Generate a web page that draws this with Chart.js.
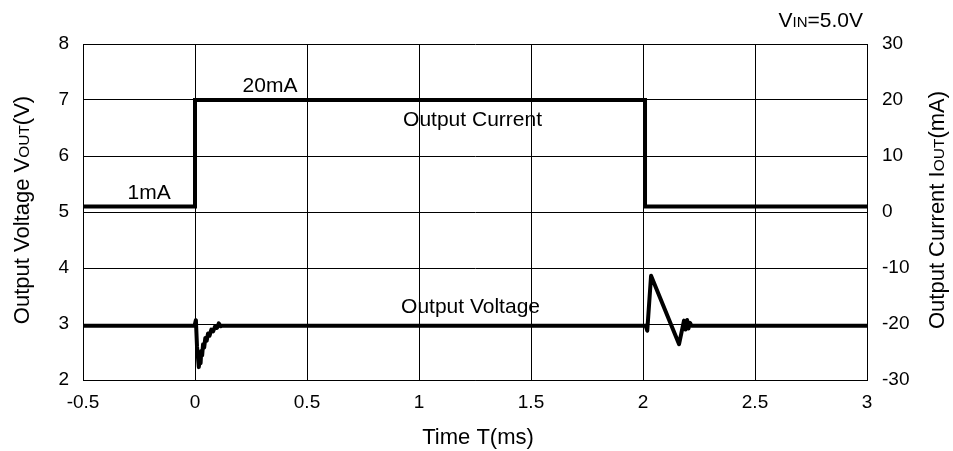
<!DOCTYPE html>
<html><head><meta charset="utf-8">
<script src="https://cdn.jsdelivr.net/npm/chart.js@4"></script>
<style>html,body{margin:0;padding:0;background:#fff}</style>
</head><body>
<canvas id="c" width="953" height="451" style="display:block;width:953px;height:451px"></canvas>
<script>
// ---- data ----
const xTicks = [-0.5, 0, 0.5, 1, 1.5, 2, 2.5, 3];
const vTicks = [2, 3, 4, 5, 6, 7, 8];
const iTicks = [-30, -20, -10, 0, 10, 20, 30];

const currentTime = [-0.5, 0, 0, 2.009, 2.009, 3];
const currentMA   = [1, 1, 20, 20, 1, 1];

const voltageTime = [-0.5, -0.002, 0.004, 0.009, 0.017, 0.021, 0.025, 0.028, 0.032, 0.036, 0.041, 0.046, 0.052, 0.058, 0.065, 0.073, 0.081, 0.09, 0.098, 0.106, 0.114, 0.122,
                     2.012, 2.019, 2.036, 2.161, 2.183, 2.19, 2.197, 2.203, 2.21, 2.216, 3];
const voltageV    = [2.97, 2.97, 3.07, 2.6, 2.23, 2.38, 2.3, 2.52, 2.44, 2.64, 2.58, 2.75, 2.7, 2.83, 2.79, 2.9, 2.87, 2.96, 2.93, 3.01, 2.96, 2.97,
                     2.97, 2.88, 3.86, 2.64, 3.06, 2.9, 3.07, 2.92, 3.02, 2.97, 2.97];

const annotText = ['20mA', '1mA', 'Output Current', 'Output Voltage'];

// ---- rendering ----
const FONT = "'Liberation Sans', Arial, sans-serif";
Chart.defaults.font.family = FONT;
Chart.defaults.color = '#000';

const annotPos = [[0.335, 7.14], [-0.205, 5.23], [1.239, 6.54], [1.23, 3.2]];

function drawRich(ctx, parts, x, y, align) {
  let total = 0;
  const widths = parts.map(p => { ctx.font = p[1] + 'px ' + FONT; const w = ctx.measureText(p[0]).width; total += w; return w; });
  let cx = align === 'center' ? x - total / 2 : (align === 'right' ? x - total : x);
  ctx.textAlign = 'left';
  ctx.textBaseline = 'alphabetic';
  parts.forEach((p, i) => { ctx.font = p[1] + 'px ' + FONT; ctx.fillText(p[0], cx, y); cx += widths[i]; });
}

const textPlugin = {
  id: 'texts',
  afterDraw(chart) {
    const { ctx, chartArea: a, scales } = chart;
    ctx.save();
    ctx.fillStyle = '#000';
    annotText.forEach((t, i) => {
      const px = scales.x.getPixelForValue(annotPos[i][0]);
      const py = scales.yV.getPixelForValue(annotPos[i][1]);
      drawRich(ctx, [[t, 21]], px, py, 'center');
    });
    drawRich(ctx, [['V', 21], ['IN', 15], ['=5.0V', 21]], a.right - 4, 27, 'right');
    drawRich(ctx, [['Time T(ms)', 22]], (a.left + a.right) / 2 + 3, 444, 'center');
    const cy = (a.top + a.bottom) / 2;
    ctx.save();
    ctx.translate(29, cy - 2);
    ctx.rotate(-Math.PI / 2);
    drawRich(ctx, [['Output Voltage V', 22], ['OUT', 15.5], ['(V)', 22]], 0, 0, 'center');
    ctx.restore();
    ctx.save();
    ctx.translate(944, cy - 2);
    ctx.rotate(-Math.PI / 2);
    drawRich(ctx, [['Output Current I', 22], ['OUT', 15.5], ['(mA)', 22]], 0, 0, 'center');
    ctx.restore();
    ctx.restore();
  }
};

const tickFont = { size: 19 };

new Chart(document.getElementById('c'), {
  type: 'line',
  data: {
    datasets: [
      {
        label: 'Output Current',
        data: currentTime.map((x, i) => ({ x, y: currentMA[i] })),
        yAxisID: 'yI',
        borderColor: '#000', borderWidth: 4, pointRadius: 0, tension: 0, fill: false,
        borderJoinStyle: 'miter', borderCapStyle: 'butt'
      },
      {
        label: 'Output Voltage',
        data: voltageTime.map((x, i) => ({ x, y: voltageV[i] })),
        yAxisID: 'yV',
        borderColor: '#000', borderWidth: 4, pointRadius: 0, tension: 0, fill: false,
        borderJoinStyle: 'round', borderCapStyle: 'butt'
      }
    ]
  },
  options: {
    responsive: false,
    animation: false,
    devicePixelRatio: 1,
    layout: { padding: { top: 44, left: 0, right: 0, bottom: 0 } },
    plugins: { legend: { display: false }, tooltip: { enabled: false }, title: { display: false } },
    scales: {
      x: {
        type: 'linear', min: -0.5, max: 3,
        afterBuildTicks: s => { s.ticks = xTicks.map(v => ({ value: v })); },
        afterFit: s => { s.height = 71; },
        ticks: { font: tickFont, color: '#000', padding: 11, maxRotation: 0, autoSkip: false, callback: v => String(v) },
        grid: { color: '#000', lineWidth: 1, drawTicks: false },
        border: { color: '#000', width: 1 }
      },
      yV: {
        type: 'linear', position: 'left', min: 2, max: 8,
        afterBuildTicks: s => { s.ticks = vTicks.map(v => ({ value: v })); },
        afterFit: s => { s.width = 83; },
        ticks: { font: tickFont, color: '#000', padding: 14, callback: v => String(v) },
        grid: { color: '#000', lineWidth: 1, drawTicks: false },
        border: { color: '#000', width: 1 }
      },
      yI: {
        type: 'linear', position: 'right', min: -30, max: 30,
        afterBuildTicks: s => { s.ticks = iTicks.map(v => ({ value: v })); },
        afterFit: s => { s.width = 86; },
        ticks: { font: tickFont, color: '#000', padding: 15, callback: v => String(v) },
        grid: { drawOnChartArea: false, drawTicks: false },
        border: { color: '#000', width: 1 }
      }
    }
  },
  plugins: [textPlugin]
});
</script>
</body></html>
